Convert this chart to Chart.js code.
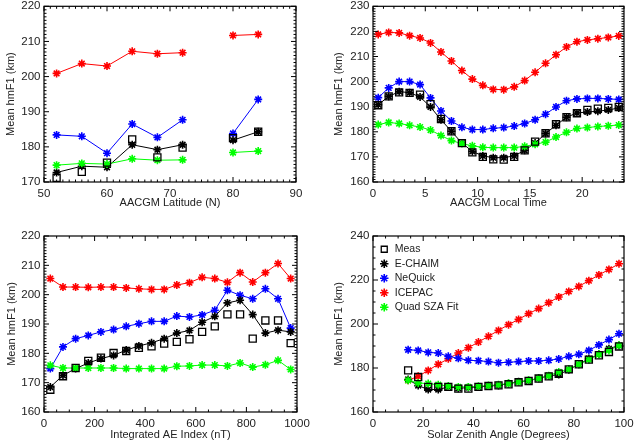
<!DOCTYPE html>
<html>
<head>
<meta charset="utf-8">
<script src="https://cdn.jsdelivr.net/npm/chart.js@4.4.0/dist/chart.umd.min.js"></script>
<style>
    body { margin: 0; background: #fff; }
    #wrap { position: relative; width: 634px; height: 445px; }
    canvas { position: absolute; }
</style>
</head>
<body>
<div id="wrap">
    <canvas id="latChart" width="317" height="220" style="left:0;top:0"></canvas>
    <canvas id="ltChart" width="317" height="220" style="left:317px;top:0"></canvas>
    <canvas id="aeChart" width="317" height="225" style="left:0;top:220px"></canvas>
    <canvas id="szaChart" width="317" height="225" style="left:317px;top:220px"></canvas>
</div>
<script>
// Series names (legend order)
const seriesNames = ['Meas', 'E-CHAIM', 'NeQuick', 'ICEPAC', 'Quad SZA Fit'];

// Panel 1: AACGM latitude
const latBins = [52, 56, 60, 64, 68, 72, 76, 80, 84];
const latMeas = [171.2, 172.9, 175.5, 182.1, 177.0, 179.8, null, 182.5, 184.3];
const latEchaim = [172.7, 174.5, 174.2, 180.6, 179.2, 180.6, null, 181.9, 184.3];
const latNeQuick = [183.4, 183.0, 178.2, 186.5, 182.7, 187.7, null, 183.8, 193.5];
const latIcepac = [200.9, 203.7, 203.0, 207.2, 206.5, 206.8, null, 211.7, 212.0];
const latQuad = [174.8, 175.3, 175.1, 176.6, 176.2, 176.3, null, 178.4, 178.8];
const latXTicks = [50, 60, 70, 80, 90];
const latYTicks = [170, 180, 190, 200, 210, 220];

// Panel 2: AACGM local time
const ltBins = [0.5, 1.5, 2.5, 3.5, 4.5, 5.5, 6.5, 7.5, 8.5, 9.5, 10.5, 11.5, 12.5, 13.5, 14.5, 15.5, 16.5, 17.5, 18.5, 19.5, 20.5, 21.5, 22.5, 23.5];
const ltMeas = [190.6, 194.1, 195.7, 195.5, 194.8, 191.0, 185.1, 180.2, 175.5, 171.8, 170.0, 169.0, 168.9, 170.0, 172.6, 176.1, 179.4, 183.0, 185.8, 187.4, 188.7, 189.2, 189.5, 189.9];
const ltEchaim = [190.8, 194.1, 196.0, 195.6, 193.9, 189.9, 184.8, 180.2, 175.5, 172.2, 170.4, 169.7, 169.7, 170.4, 172.6, 175.5, 179.3, 182.6, 185.8, 187.5, 187.9, 188.2, 188.7, 189.5];
const ltNeQuick = [193.6, 197.5, 200.0, 200.0, 198.8, 193.5, 188.3, 184.3, 181.8, 180.9, 180.9, 181.4, 181.7, 182.3, 183.3, 184.8, 187.0, 189.9, 192.4, 193.1, 193.3, 193.3, 193.1, 192.9];
const ltIcepac = [218.8, 219.6, 219.4, 218.3, 217.4, 215.4, 211.8, 208.2, 204.4, 201.0, 198.5, 196.9, 196.8, 197.9, 200.4, 203.7, 207.3, 210.7, 213.8, 215.9, 216.6, 217.1, 217.6, 218.2];
const ltQuad = [182.9, 183.7, 183.3, 182.6, 181.9, 180.7, 178.5, 176.5, 175.3, 174.4, 173.8, 173.7, 173.7, 173.7, 174.2, 175.0, 175.9, 177.9, 179.8, 181.3, 181.7, 182.1, 182.4, 182.7];
const ltXTicks = [0, 5, 10, 15, 20];
const ltYTicks = [160, 170, 180, 190, 200, 210, 220, 230];

// Panel 3: integrated AE index
const aeBins = [25, 75, 125, 175, 225, 275, 325, 375, 425, 475, 525, 575, 625, 675, 725, 775, 825, 875, 925, 975];
const aeMeas = [167.6, 172.2, 175.0, 177.4, 178.5, 180.1, 180.8, 181.9, 182.4, 183.3, 183.9, 184.8, 187.3, 189.2, 193.3, 193.3, 185.0, 191.2, 191.2, 183.5];
const aeEchaim = [168.5, 172.5, 174.8, 176.7, 178.2, 179.3, 181.1, 182.5, 183.6, 185.0, 186.9, 187.8, 190.6, 192.6, 197.2, 198.1, 193.2, 186.9, 187.9, 187.3];
const aeNeQuick = [174.8, 182.2, 185.0, 186.1, 187.3, 188.1, 189.2, 190.1, 190.9, 190.9, 192.7, 192.4, 193.1, 194.7, 201.5, 199.8, 198.6, 202.0, 198.6, 188.6];
const aeIcepac = [205.5, 202.6, 202.6, 202.5, 202.6, 202.6, 202.3, 202.0, 201.8, 201.8, 203.3, 204.1, 205.9, 205.5, 204.2, 207.5, 204.3, 207.5, 210.6, 205.5];
const aeQuad = [175.9, 175.0, 175.0, 175.0, 175.0, 175.0, 174.8, 174.8, 174.8, 174.8, 175.6, 175.7, 176.0, 176.0, 175.7, 176.7, 175.3, 176.1, 177.6, 174.5];
const aeXTicks = [0, 200, 400, 600, 800, 1000];
const aeYTicks = [160, 170, 180, 190, 200, 210, 220];

// Panel 4: solar zenith angle
const szaBins = [14, 18, 22, 26, 30, 34, 38, 42, 46, 50, 54, 58, 62, 66, 70, 74, 78, 82, 86, 90, 94, 98];
const szaMeas = [178.9, 175.9, 171.4, 171.4, 171.4, 170.6, 170.6, 171.4, 171.8, 172.1, 172.6, 173.5, 174.1, 175.2, 176.2, 177.4, 179.4, 181.7, 183.8, 185.8, 187.3, 189.8];
const szaEchaim = [174.8, 172.0, 170.2, 170.2, 171.4, 170.8, 171.1, 171.4, 171.8, 172.1, 172.9, 173.8, 174.2, 175.3, 176.4, 177.0, 179.2, 181.7, 184.2, 186.2, 188.8, 190.2];
const szaNeQuick = [188.3, 188.0, 187.1, 186.8, 185.3, 184.4, 183.5, 183.3, 182.9, 182.4, 182.6, 182.9, 183.2, 183.2, 183.5, 184.1, 185.3, 186.2, 188.0, 190.5, 192.9, 195.6];
const szaIcepac = [174.4, 176.2, 178.9, 181.7, 184.2, 186.8, 189.2, 191.8, 194.4, 197.1, 199.7, 202.1, 204.7, 207.0, 209.7, 212.3, 214.8, 217.1, 219.7, 222.3, 224.8, 227.4];
const szaQuad = [174.4, 173.2, 172.9, 172.4, 171.8, 171.4, 171.4, 171.7, 172.0, 172.4, 172.9, 173.6, 174.4, 175.3, 176.5, 178.2, 179.4, 181.7, 183.8, 186.2, 188.0, 190.3];
const szaXTicks = [0, 20, 40, 60, 80, 100];
const szaYTicks = [160, 180, 200, 220, 240];

Chart.defaults.font.family = '"Liberation Sans", Arial, sans-serif';
Chart.defaults.color = '#222';

const TEXT = '#222';

// Box around the plot with inward major / minor ticks on all four sides
const framePlugin = {
    id: 'frame',
    afterLayout(chart) {
        // vertical legend inside the plot: move it down to the top of the chart area
        const lg = chart.legend;
        if (lg && lg.options.display) {
            const dy = chart.chartArea.top + 4 - lg.top;
            lg.top += dy; lg.bottom += dy;
            lg.left += 2; lg.right += 2;
        }
    },
    afterDatasetsDraw(chart, args, opts) {
        const { ctx, chartArea: a, scales } = chart;
        const x = scales.x, y = scales.y;
        ctx.save();
        ctx.strokeStyle = '#000';
        ctx.lineWidth = 1.2;
        ctx.strokeRect(a.left, a.top, a.right - a.left, a.bottom - a.top);
        ctx.lineWidth = 1;
        ctx.beginPath();
        for (let v = x.min; v <= x.max + 1e-6; v += opts.xMinor) {
            const px = x.getPixelForValue(v);
            const len = Math.abs(v / opts.xMajor - Math.round(v / opts.xMajor)) < 1e-6 ? 5 : 2.5;
            ctx.moveTo(px, a.bottom); ctx.lineTo(px, a.bottom - len);
            ctx.moveTo(px, a.top); ctx.lineTo(px, a.top + len);
        }
        for (let v = y.min; v <= y.max + 1e-6; v += opts.yMinor) {
            const py = y.getPixelForValue(v);
            const len = Math.abs(v / opts.yMajor - Math.round(v / opts.yMajor)) < 1e-6 ? 5 : 2.5;
            ctx.moveTo(a.left, py); ctx.lineTo(a.left + len, py);
            ctx.moveTo(a.right, py); ctx.lineTo(a.right - len, py);
        }
        ctx.stroke();
        ctx.restore();
    }
};

function pts(xs, ys) {
    return xs.map((v, i) => ({ x: v, y: ys[i] }));
}

function makeDatasets(xs, meas, echaim, nequick, icepac, quad) {
    const star = (label, color, ys, order) => ({
        label: label,
        data: pts(xs, ys),
        borderColor: color,
        backgroundColor: color,
        borderWidth: 1,
        pointStyle: 'star',
        pointRadius: 4,
        pointBorderWidth: 1.6,
        pointBorderColor: color,
        spanGaps: false,
        order: order
    });
    return [
        {
            label: seriesNames[0],
            data: pts(xs, meas),
            showLine: false,
            pointStyle: 'rect',
            pointRadius: 5,
            pointBorderWidth: 1.3,
            borderColor: '#000',
            backgroundColor: 'rgba(0,0,0,0)',
            pointBorderColor: '#000',
            pointBackgroundColor: 'rgba(0,0,0,0)',
            order: 0
        },
        star(seriesNames[1], '#000000', echaim, 2),
        star(seriesNames[2], '#0000ff', nequick, 3),
        star(seriesNames[3], '#ff0000', icepac, 4),
        star(seriesNames[4], '#00ff00', quad, 1)
    ];
}

function makeChart(id, cfg) {
    new Chart(document.getElementById(id), {
        type: 'line',
        data: { datasets: makeDatasets(cfg.xs, cfg.meas, cfg.echaim, cfg.nequick, cfg.icepac, cfg.quad) },
        plugins: [framePlugin],
        options: {
            responsive: false,
            animation: false,
            layout: { padding: { left: 0, top: cfg.top, right: cfg.right, bottom: 0 } },
            plugins: {
                tooltip: { enabled: false },
                legend: cfg.legend ? {
                    display: true,
                    position: 'chartArea',
                    align: 'start',
                    labels: {
                        usePointStyle: true,
                        boxWidth: 10.5,
                        boxHeight: 6,
                        padding: 4,
                        color: TEXT,
                        font: { size: 10.5 },
                        sort: (a, b) => a.datasetIndex - b.datasetIndex
                    }
                } : { display: false },
                frame: cfg.frame
            },
            scales: {
                x: {
                    type: 'linear',
                    min: cfg.xMin,
                    max: cfg.xMax,
                    grid: { display: false, drawTicks: false },
                    border: { display: false },
                    ticks: { padding: 5, font: { size: 11.5 }, color: TEXT, callback: v => String(v) },
                    afterBuildTicks: s => { s.ticks = cfg.xTicks.map(v => ({ value: v })); },
                    afterFit: s => { s.height = cfg.xH; s.paddingLeft = 0; s.paddingRight = 0; },
                    title: { display: true, text: cfg.xTitle, color: TEXT, font: { size: 11 }, padding: { top: 0, bottom: cfg.xTitlePad } }
                },
                y: {
                    type: 'linear',
                    min: cfg.yMin,
                    max: cfg.yMax,
                    grid: { display: false, drawTicks: false },
                    border: { display: false },
                    ticks: { padding: 3.5, font: { size: 11.5 }, color: TEXT, callback: v => String(v) },
                    afterBuildTicks: s => { s.ticks = cfg.yTicks.map(v => ({ value: v })); },
                    afterFit: s => { s.width = cfg.yW; s.paddingTop = 0; s.paddingBottom = 0; },
                    title: { display: true, text: 'Mean hmF1 (km)', color: TEXT, font: { size: 11 }, padding: { top: cfg.yTitlePad, bottom: 0 } }
                }
            }
        }
    });
}

makeChart('latChart', {
    xs: latBins, meas: latMeas, echaim: latEchaim, nequick: latNeQuick, icepac: latIcepac, quad: latQuad,
    xMin: 50, xMax: 90, xTicks: latXTicks, yMin: 170, yMax: 220, yTicks: latYTicks,
    xTitle: 'AACGM Latitude (N)', top: 6, right: 21, xH: 38, yW: 44, xTitlePad: 10, yTitlePad: 4,
    frame: { xMinor: 1, xMajor: 10, yMinor: 1, yMajor: 10 }
});

makeChart('ltChart', {
    xs: ltBins, meas: ltMeas, echaim: ltEchaim, nequick: ltNeQuick, icepac: ltIcepac, quad: ltQuad,
    xMin: 0, xMax: 24, xTicks: ltXTicks, yMin: 160, yMax: 230, yTicks: ltYTicks,
    xTitle: 'AACGM Local Time', top: 6, right: 10, xH: 38, yW: 56, xTitlePad: 10, yTitlePad: 15,
    frame: { xMinor: 1, xMajor: 5, yMinor: 1, yMajor: 10 }
});

makeChart('aeChart', {
    xs: aeBins, meas: aeMeas, echaim: aeEchaim, nequick: aeNeQuick, icepac: aeIcepac, quad: aeQuad,
    xMin: 0, xMax: 1000, xTicks: aeXTicks, yMin: 160, yMax: 220, yTicks: aeYTicks,
    xTitle: 'Integrated AE Index (nT)', top: 16, right: 20, xH: 33, yW: 44, xTitlePad: 3.5, yTitlePad: 5,
    frame: { xMinor: 50, xMajor: 200, yMinor: 1, yMajor: 10 }
});

makeChart('szaChart', {
    xs: szaBins, meas: szaMeas, echaim: szaEchaim, nequick: szaNeQuick, icepac: szaIcepac, quad: szaQuad,
    xMin: 0, xMax: 100, xTicks: szaXTicks, yMin: 160, yMax: 240, yTicks: szaYTicks,
    xTitle: 'Solar Zenith Angle (Degrees)', top: 16, right: 10, xH: 33, yW: 56, xTitlePad: 3.5, yTitlePad: 15,
    frame: { xMinor: 5, xMajor: 20, yMinor: 5, yMajor: 20 },
    legend: true
});
</script>
</body>
</html>
